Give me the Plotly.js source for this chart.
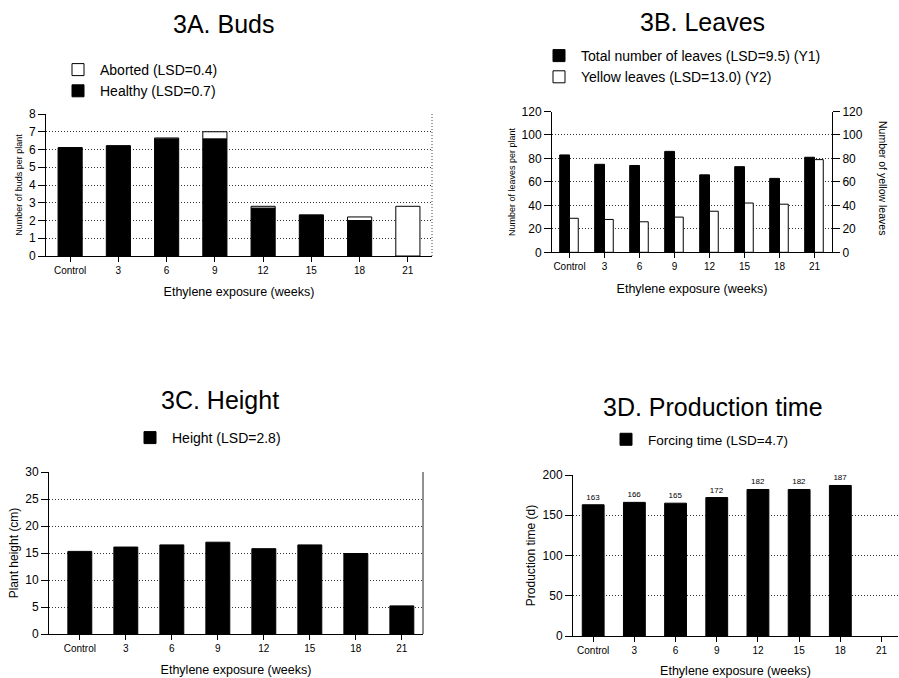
<!DOCTYPE html>
<html>
<head>
<meta charset="utf-8">
<script src="https://cdn.plot.ly/plotly-3.0.1.min.js"></script>
<style>html,body{margin:0;padding:0;background:#fff}#chart{width:899px;height:678px}</style>
</head>
<body>
<div id="chart"></div>
<script>
// ---- data ----
var categories = ["Control", "3", "6", "9", "12", "15", "18", "21"];
// 3A Buds
var budsHealthy = [6.1, 6.2, 6.6, 6.6, 2.7, 2.3, 2.0, 0];
var budsAborted = [0, 0, 0.05, 0.4, 0.1, 0, 0.2, 2.8];
// 3B Leaves
var leavesTotal = [83, 75, 74, 86, 66, 73, 63, 81];
var leavesYellow = [29, 28, 26, 30, 35, 42, 41, 79];
// 3C Height
var plantHeight = [15.3, 16.1, 16.5, 17.0, 15.8, 16.5, 14.9, 5.2];
// 3D Production time
var forcingTime = [163, 166, 165, 172, 182, 182, 187, null];

var FONT = "Liberation Sans, Arial, sans-serif";
var W = 899, H = 678;
function px(x) { return x / W; }
function py(y) { return 1 - y / H; }
var GRIDDASH = "1px,2px";

var traces = [
  {type: "bar", x: categories, y: budsHealthy, name: "Healthy (LSD=0.7)", xaxis: "x", yaxis: "y",
   width: 0.5, offset: -0.25, marker: {color: "#000", line: {color: "#000", width: 1}}, legend: "legend"},
  {type: "bar", x: categories, y: budsAborted, base: budsHealthy, name: "Aborted (LSD=0.4)", xaxis: "x", yaxis: "y",
   width: 0.5, offset: -0.25, marker: {color: "#fff", line: {color: "#000", width: 1}}, legend: "legend"},
  {type: "bar", x: categories, y: leavesTotal, name: "Total number of leaves (LSD=9.5) (Y1)", xaxis: "x2", yaxis: "y2",
   width: 0.28, offset: -0.28, marker: {color: "#000", line: {color: "#000", width: 1}}, legend: "legend2"},
  {type: "bar", x: categories, y: leavesYellow, name: "Yellow leaves (LSD=13.0) (Y2)", xaxis: "x2", yaxis: "y5",
   width: 0.25, offset: 0.0, marker: {color: "#fff", line: {color: "#000", width: 1}}, legend: "legend2"},
  {type: "bar", x: categories, y: plantHeight, name: "Height (LSD=2.8)", xaxis: "x3", yaxis: "y3",
   width: 0.52, offset: -0.26, marker: {color: "#000", line: {color: "#000", width: 1}}, legend: "legend3"},
  {type: "bar", x: categories, y: forcingTime, name: "Forcing time (LSD=4.7)", xaxis: "x4", yaxis: "y4",
   width: 0.53, offset: -0.265, marker: {color: "#000", line: {color: "#000", width: 1}}, legend: "legend4",
   text: forcingTime.map(function (v) { return v == null ? "" : String(v); }), textposition: "outside",
   textfont: {size: 8, color: "#000", family: FONT}, cliponaxis: false}
];

function xax(domain, anchor, range) {
  return {domain: domain, anchor: anchor, type: "category", range: range,
    showline: true, linecolor: "#000", linewidth: 1, ticks: "outside", ticklen: 5, tickcolor: "#000",
    showgrid: false, zeroline: false, tickfont: {size: 10, color: "#000", family: FONT},
    title: {text: "Ethylene exposure (weeks)", font: {size: 12.5, color: "#000", family: FONT}, standoff: 12},
    automargin: false, fixedrange: true};
}
function yax(domain, anchor, range, dtick, title, tsize) {
  return {domain: domain, anchor: anchor, range: range, dtick: dtick,
    showline: true, linecolor: "#000", linewidth: 1, ticks: "outside", ticklen: 7, tickcolor: "#000",
    showgrid: true, gridcolor: "#333", gridwidth: 1, griddash: GRIDDASH, zeroline: false,
    tickfont: {size: 12, color: "#000", family: FONT},
    title: {text: title, font: {size: tsize, color: "#000", family: FONT}, standoff: 4},
    automargin: false, fixedrange: true};
}

var dA = {x: [px(46), px(432)], y: [py(256), py(114)]};
var dB = {x: [px(552), px(832)], y: [py(252.3), py(111.5)]};
var dC = {x: [px(49), px(423)], y: [py(634), py(472)]};
var dD = {x: [px(573), px(898)], y: [py(636), py(475)]};

function legendBox(x, y, size, order) {
  return {x: px(x), y: py(y), xanchor: "left", yanchor: "top", traceorder: order || "normal",
    itemwidth: 34, font: {size: size, color: "#000", family: FONT}, bgcolor: "rgba(0,0,0,0)", itemclick: false};
}
function title(text, x, y) {
  return {text: text, x: px(x), y: py(y), xref: "paper", yref: "paper", xanchor: "center", yanchor: "middle",
    showarrow: false, font: {size: 25, color: "#000", family: FONT}};
}

var layout = {
  width: W, height: H, margin: {l: 0, r: 0, t: 0, b: 0},
  paper_bgcolor: "#fff", plot_bgcolor: "#fff",
  barmode: "overlay",
  font: {family: FONT, color: "#000"},
  xaxis: xax(dA.x, "y", [-0.5, 7.5]),
  yaxis: yax(dA.y, "x", [0, 8], 1, "Number of buds per plant", 9),
  xaxis2: xax(dB.x, "y2", [-0.5, 7.5]),
  yaxis2: yax(dB.y, "x2", [0, 120], 20, "Number of leaves per plant", 9),
  yaxis5: {domain: dB.y, anchor: "x2", overlaying: "y2", side: "right", range: [0, 120], dtick: 20,
    showline: true, linecolor: "#000", linewidth: 1, ticks: "outside", ticklen: 7, tickcolor: "#000",
    showgrid: false, zeroline: false, tickfont: {size: 12, color: "#000", family: FONT}, fixedrange: true},
  xaxis3: xax(dC.x, "y3", [-0.67, 7.46]),
  yaxis3: yax(dC.y, "x3", [0, 30], 5, "Plant height (cm)", 12),
  xaxis4: xax(dD.x, "y4", [-0.49, 7.4]),
  yaxis4: yax(dD.y, "x4", [0, 200], 50, "Production time (d)", 12),
  legend: legendBox(56, 54, 14, "reversed"),
  legend2: legendBox(537, 40, 14),
  legend3: legendBox(128, 422, 14),
  legend4: legendBox(604, 424, 13.5),
  annotations: [
    title("3A. Buds", 223, 24),
    title("3B. Leaves", 702, 22),
    title("3C. Height", 220, 400),
    title("3D. Production time", 713, 407),
    {text: "Number of yellow leaves", x: px(883), y: py(178), xref: "paper", yref: "paper", xanchor: "center", yanchor: "middle",
     showarrow: false, textangle: 90, font: {size: 10.5, color: "#000", family: FONT}}
  ],
  shapes: [
    {type: "line", xref: "x domain", yref: "y domain", x0: 1, x1: 1, y0: 0, y1: 1, line: {color: "#444", width: 1, dash: GRIDDASH}},
    {type: "line", xref: "x3 domain", yref: "y3 domain", x0: 1, x1: 1, y0: 0, y1: 1, line: {color: "#222", width: 1}}
  ]
};

Plotly.newPlot("chart", traces, layout, {staticPlot: true, displayModeBar: false});
</script>
</body>
</html>
